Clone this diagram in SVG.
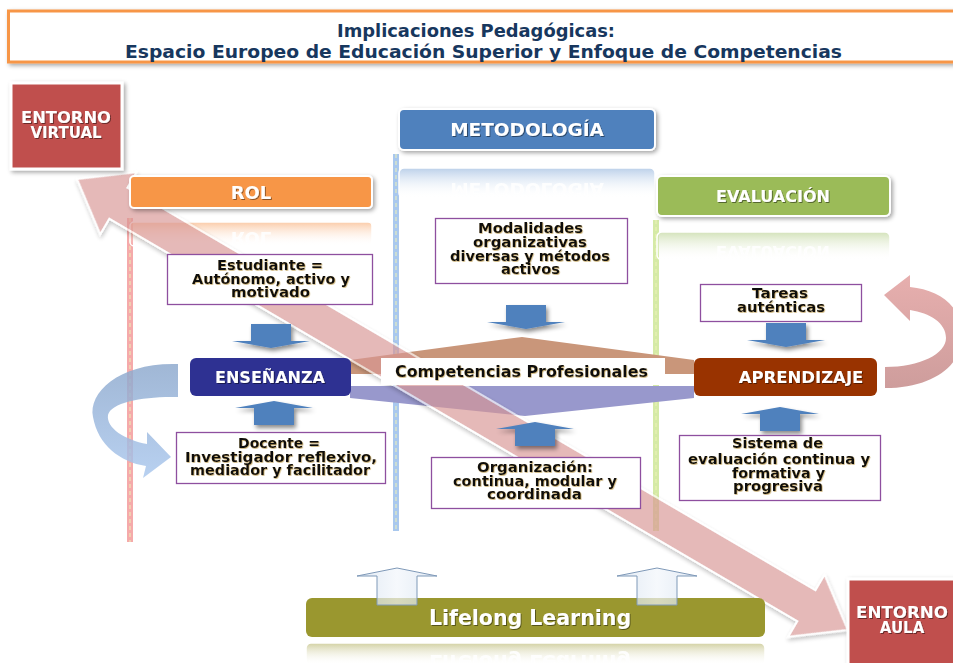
<svg xmlns="http://www.w3.org/2000/svg" width="953" height="663" viewBox="0 0 953 663">
<defs>
<style>
.t{font-family:"DejaVu Sans",Verdana,sans-serif;font-weight:bold}
.hd{fill:#fff;text-anchor:middle}
.bx{fill:#fff;stroke:#8E4F9F;stroke-width:1.3}
.bt{font-size:14px;fill:#111;text-anchor:middle}
.arr{fill:#4F81BD}
.vl{stroke-width:6;fill:none}
.vd{stroke:#EEF2B8;stroke-width:1;stroke-dasharray:4 3;fill:none}
.hb{stroke:#fff;stroke-width:2}
.ref{stroke:#fff;stroke-width:1.5}
.rt{fill:#fff;text-anchor:middle;opacity:0.9}
</style>
<filter id="sh" x="-10%" y="-20%" width="130%" height="160%">
<feDropShadow dx="2" dy="2" stdDeviation="2" flood-color="#000" flood-opacity="0.35"/>
</filter>
<filter id="sh2" x="-20%" y="-40%" width="160%" height="200%">
<feDropShadow dx="2" dy="3" stdDeviation="2" flood-color="#000" flood-opacity="0.45"/>
</filter>
<filter id="ts" x="-5%" y="-20%" width="110%" height="150%">
<feDropShadow dx="1" dy="1" stdDeviation="0.6" flood-color="#000" flood-opacity="0.45"/>
</filter>
<filter id="tg" x="-5%" y="-20%" width="110%" height="150%">
<feDropShadow dx="0.6" dy="0.8" stdDeviation="0.5" flood-color="#B08A30" flood-opacity="0.7"/>
</filter>
<linearGradient id="gRol" x1="0" y1="0" x2="0" y2="1"><stop offset="0" stop-color="#F9B98A" stop-opacity="0.75"/><stop offset="1" stop-color="#fff" stop-opacity="0"/></linearGradient>
<linearGradient id="gMet" x1="0" y1="0" x2="0" y2="1"><stop offset="0" stop-color="#9DBBE0" stop-opacity="0.7"/><stop offset="1" stop-color="#fff" stop-opacity="0"/></linearGradient>
<linearGradient id="gEva" x1="0" y1="0" x2="0" y2="1"><stop offset="0" stop-color="#C8DBA8" stop-opacity="0.8"/><stop offset="1" stop-color="#fff" stop-opacity="0"/></linearGradient>
<linearGradient id="gLif" x1="0" y1="0" x2="0" y2="1"><stop offset="0" stop-color="#C6C48A" stop-opacity="0.8"/><stop offset="1" stop-color="#fff" stop-opacity="0"/></linearGradient>
<linearGradient id="gLB" gradientUnits="userSpaceOnUse" x1="0" y1="360" x2="0" y2="480"><stop offset="0" stop-color="#8AA6CB"/><stop offset="1" stop-color="#A9C7EE"/></linearGradient>
<linearGradient id="gRB" gradientUnits="userSpaceOnUse" x1="0" y1="275" x2="0" y2="390"><stop offset="0" stop-color="#E4A6A5"/><stop offset="1" stop-color="#C89291"/></linearGradient>
<linearGradient id="gLu" x1="0" y1="0" x2="1" y2="0"><stop offset="0" stop-color="#D5E1EF"/><stop offset="0.5" stop-color="#F2F6FB"/><stop offset="1" stop-color="#D5E1EF"/></linearGradient>
<path id="dn" d="M-20,-17H20V0H39L0,7L-39,0H-20Z"/>
<path id="up" d="M-20,17H20V0H39L0,-7L-39,0H-20Z"/>
<path id="lup" d="M-20,37V8H-40L0,0L40,8H20V37Z"/>
</defs>
<rect width="953" height="663" fill="#fff"/>

<g id="title">
<rect x="8.5" y="11" width="960" height="51" fill="#fff" stroke="#F79646" stroke-width="3" filter="url(#sh)"/>
<text class="t" x="476" y="37" font-size="18.5" fill="#17375E" text-anchor="middle" textLength="278" lengthAdjust="spacingAndGlyphs">Implicaciones Pedagógicas:</text>
<text class="t" x="483.5" y="57.5" font-size="18.5" fill="#17375E" text-anchor="middle" textLength="717" lengthAdjust="spacingAndGlyphs">Espacio Europeo de Educación Superior y Enfoque de Competencias</text>
</g>

<g id="columns">
<line class="vl" x1="130" y1="218" x2="130" y2="542" stroke="#F5AAAA"/>
<line class="vd" x1="130" y1="218" x2="130" y2="542"/>
<line class="vl" x1="396" y1="154" x2="396" y2="531" stroke="#A9C8EE"/>
<line class="vd" x1="396" y1="154" x2="396" y2="531"/>
<line class="vl" x1="656" y1="220" x2="656" y2="531" stroke="#D5EAA6"/>
<line class="vd" x1="656" y1="220" x2="656" y2="531"/>
<rect class="ref" x="130" y="222" width="242" height="24" rx="4" fill="url(#gRol)"/>
<text class="t rt" font-size="18" transform="matrix(1,0,0,-1,0,430)" x="251" y="198.5">ROL</text>
<rect class="ref" x="399" y="168" width="256" height="30" rx="5" fill="url(#gMet)"/>
<text class="t rt" font-size="18.5" transform="matrix(1,0,0,-1,0,318)" x="527" y="135.5">METODOLOGÍA</text>
<rect class="ref" x="657" y="232" width="233" height="28" rx="5" fill="url(#gEva)"/>
<text class="t rt" font-size="16" transform="matrix(1,0,0,-1,0,448)" x="773" y="202">EVALUACIÓN</text>
<rect class="ref" x="306" y="643" width="459" height="22" rx="5" fill="url(#gLif)"/>
<text class="t rt" font-size="20.5" transform="matrix(1,0,0,-1,0,1280)" x="530" y="625">Lifelong Learning</text>
</g>

<g id="competencias-bands">
<polygon points="350,360 522,337 694,360 694,374 350,374" fill="#C9967A"/>
<polygon points="350,386 694,386 694,398 525,416 350,398" fill="#9898CC"/>
</g>

<g id="connectors">
<path d="M0,0 L48,-36 L48,-18 L845,-18 L845,-36 L893,0 L845,36 L845,18 L48,18 L48,36 Z" transform="translate(77,179) rotate(30.33)" fill="#D99694" stroke="#fff" stroke-width="2" filter="url(#sh)" opacity="0.66"/>
<path d="M178,364 C120,362 88,392 93,417 C98,445 120,462 146,466 L143,478 L171,457 L147,432 L147,444 C125,440 106,428 108,415 C111,402 145,396 178,397 Z" fill="url(#gLB)" fill-opacity="0.82"/>
<path d="M885,388 C932,388 962,366 962,336 C962,306 940,290 910,287 L910,275 L884,295 L910,321 L910,310 C930,313 946,323 946,338 C946,354 920,367 885,367 Z" fill="url(#gRB)" fill-opacity="0.9"/>
<g filter="url(#sh2)">
<use href="#dn" class="arr" transform="translate(271,341)"/>
<use href="#dn" class="arr" transform="translate(526,322)"/>
<use href="#dn" class="arr" transform="translate(786,340)"/>
<use href="#up" class="arr" transform="translate(274,408)"/>
<use href="#up" class="arr" transform="translate(535,429)"/>
<use href="#up" class="arr" transform="translate(780,414)"/>
</g>
</g>

<g id="entorno-virtual">
<rect x="11" y="83" width="111" height="86" fill="#C0504D" stroke="#fff" stroke-width="3" filter="url(#sh)"/>
<text class="t hd" font-size="15" filter="url(#ts)" x="66" y="123" textLength="90" lengthAdjust="spacingAndGlyphs">ENTORNO</text>
<text class="t hd" font-size="15" filter="url(#ts)" x="66" y="138">VIRTUAL</text>
</g>

<g id="entorno-aula">
<rect x="848" y="579" width="120" height="100" fill="#C0504D" stroke="#fff" stroke-width="3" filter="url(#sh)"/>
<text class="t hd" font-size="15" filter="url(#ts)" x="902" y="618" textLength="92" lengthAdjust="spacingAndGlyphs">ENTORNO</text>
<text class="t hd" font-size="15" filter="url(#ts)" x="902" y="633">AULA</text>
</g>

<g id="rol">
<rect class="hb" x="130" y="176" width="242" height="32" rx="4" fill="#F79646" filter="url(#sh)"/>
<text class="t hd" font-size="18" x="251" y="198.5" filter="url(#ts)">ROL</text>
</g>

<g id="metodologia">
<rect class="hb" x="399" y="109" width="256" height="41" rx="5" fill="#4F81BD" filter="url(#sh)"/>
<text class="t hd" font-size="18.5" x="527" y="135.5" filter="url(#ts)">METODOLOGÍA</text>
</g>

<g id="evaluacion">
<rect class="hb" x="657" y="176" width="233" height="40" rx="5" fill="#9BBB59" filter="url(#sh)"/>
<text class="t hd" font-size="16" x="773" y="202" filter="url(#ts)">EVALUACIÓN</text>
</g>

<g id="estudiante">
<rect class="bx" x="167.5" y="254.5" width="205" height="50"/>
<g class="t bt" filter="url(#tg)">
<text x="270" y="270" textLength="106" lengthAdjust="spacingAndGlyphs">Estudiante =</text>
<text x="271" y="284" textLength="158" lengthAdjust="spacingAndGlyphs">Autónomo, activo y</text>
<text x="270.5" y="297" textLength="79" lengthAdjust="spacingAndGlyphs">motivado</text>
</g>
</g>

<g id="modalidades">
<rect class="bx" x="435.5" y="218.5" width="192" height="65"/>
<g class="t bt" filter="url(#tg)">
<text x="530.5" y="233" textLength="105" lengthAdjust="spacingAndGlyphs">Modalidades</text>
<text x="530" y="247" textLength="114" lengthAdjust="spacingAndGlyphs">organizativas</text>
<text x="530" y="260.5" textLength="160" lengthAdjust="spacingAndGlyphs">diversas y métodos</text>
<text x="530.5" y="274" textLength="59" lengthAdjust="spacingAndGlyphs">activos</text>
</g>
</g>

<g id="tareas">
<rect class="bx" x="700.5" y="284.5" width="161" height="37"/>
<g class="t bt" filter="url(#tg)">
<text x="780" y="298" textLength="56" lengthAdjust="spacingAndGlyphs">Tareas</text>
<text x="781" y="312" textLength="88" lengthAdjust="spacingAndGlyphs">auténticas</text>
</g>
</g>

<g id="docente">
<rect class="bx" x="176.5" y="432.5" width="209" height="51"/>
<g class="t bt" filter="url(#tg)">
<text x="279" y="448" textLength="82" lengthAdjust="spacingAndGlyphs">Docente =</text>
<text x="281" y="461.5" textLength="192" lengthAdjust="spacingAndGlyphs">Investigador reflexivo,</text>
<text x="280" y="474.5" textLength="180" lengthAdjust="spacingAndGlyphs">mediador y facilitador</text>
</g>
</g>

<g id="organizacion">
<rect class="bx" x="431.5" y="457.5" width="209" height="51" fill="none"/>
<g class="t bt" filter="url(#tg)">
<text x="535" y="472" textLength="116" lengthAdjust="spacingAndGlyphs">Organización:</text>
<text x="535" y="486" textLength="164" lengthAdjust="spacingAndGlyphs">continua, modular y</text>
<text x="534.5" y="499" textLength="95" lengthAdjust="spacingAndGlyphs">coordinada</text>
</g>
</g>

<g id="sistema">
<rect class="bx" x="679.5" y="435.5" width="201" height="65"/>
<g class="t bt" filter="url(#tg)">
<text x="777.5" y="448" textLength="91" lengthAdjust="spacingAndGlyphs">Sistema de</text>
<text x="779" y="464" textLength="182" lengthAdjust="spacingAndGlyphs">evaluación continua y</text>
<text x="778.5" y="477.5" textLength="93" lengthAdjust="spacingAndGlyphs">formativa y</text>
<text x="778" y="490.5" textLength="90" lengthAdjust="spacingAndGlyphs">progresiva</text>
</g>
</g>

<g id="ensenanza">
<rect x="190" y="358" width="161" height="38" rx="6" fill="#2E3192"/>
<text class="t hd" font-size="16" x="270" y="383" filter="url(#ts)">ENSEÑANZA</text>
</g>

<g id="aprendizaje">
<rect x="694" y="358" width="183" height="38" rx="6" fill="#993300"/>
<text class="t hd" font-size="16.5" x="801" y="383" filter="url(#ts)">APRENDIZAJE</text>
</g>

<g id="competencias">
<rect x="381" y="358" width="284" height="27" fill="#fff"/>
<text class="t" font-size="15" fill="#111" text-anchor="middle" x="521.5" y="376.5" textLength="253" lengthAdjust="spacingAndGlyphs" filter="url(#tg)">Competencias Profesionales</text>
</g>

<g id="lifelong">
<rect x="306" y="598" width="459" height="39" rx="6" fill="#9A972F"/>
<text class="t hd" font-size="20.5" x="530" y="625" filter="url(#ts)">Lifelong Learning</text>
<use href="#lup" transform="translate(397,568)" fill="url(#gLu)" fill-opacity="0.7" stroke="#7F99B8" stroke-width="1"/>
<use href="#lup" transform="translate(657,568)" fill="url(#gLu)" fill-opacity="0.7" stroke="#7F99B8" stroke-width="1"/>
</g>
</svg>
